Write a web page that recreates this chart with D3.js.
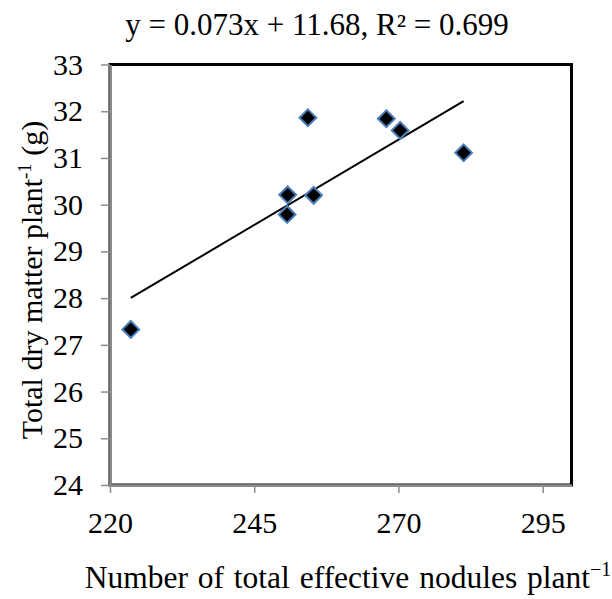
<!DOCTYPE html>
<html>
<head>
<meta charset="utf-8">
<script src="https://cdn.jsdelivr.net/npm/d3@7"></script>
<style>
  body { margin: 0; background: #fff; }
  text { font-family: "Liberation Serif", "Times New Roman", serif; fill: #000; }
</style>
</head>
<body>
<div id="chart"></div>
<script>
// nodules per plant vs total dry matter per plant
const nodules = [223.6, 254.3, 267.9, 270.3, 281.3, 250.8, 255.3, 250.7];
const dryMatter = [27.33, 31.86, 31.84, 31.59, 31.11, 30.21, 30.20, 29.79];
const xTicks = [220, 245, 270, 295];
const yTicks = [24, 25, 26, 27, 28, 29, 30, 31, 32, 33];
const slope = 0.073, intercept = 11.68;
const equation = "y = 0.073x + 11.68, R² = 0.699";

const svg = d3.select("#chart")
  .append("svg")
  .attr("width", 612)
  .attr("height", 599);

const x = d3.scaleLinear().domain([220, 300]).range([110, 571.5]);
const y = d3.scaleLinear().domain([24, 33]).range([485, 64.5]);

// plot area border
svg.append("rect")
  .attr("x", x(220))
  .attr("y", y(33))
  .attr("width", x(300) - x(220))
  .attr("height", y(24) - y(33))
  .attr("fill", "none")
  .attr("stroke", "#000")
  .attr("stroke-width", 3);

const xAxis = svg.append("g")
  .attr("transform", `translate(0,${y(24)})`)
  .call(d3.axisBottom(x).tickValues(xTicks).tickSize(8).tickPadding(19).tickSizeOuter(0));

const yAxis = svg.append("g")
  .attr("transform", `translate(${x(220)},0)`)
  .call(d3.axisLeft(y).tickValues(yTicks).tickSize(9).tickPadding(18).tickSizeOuter(0));

[xAxis, yAxis].forEach(g => {
  g.select(".domain").attr("stroke", "#8c8c8c").attr("stroke-width", 2.5);
  g.selectAll(".tick line").attr("stroke", "#8c8c8c").attr("stroke-width", 1.5);
  g.selectAll(".tick text")
    .attr("font-size", 30)
    .attr("font-family", "Liberation Serif, Times New Roman, serif")
    .attr("fill", "#000");
});

// trend line
const xr = d3.extent(nodules);
svg.append("path")
  .datum(xr)
  .attr("fill", "none")
  .attr("stroke", "#000")
  .attr("stroke-width", 2)
  .attr("d", d3.line()
    .x(d => x(d))
    .y(d => y(slope * d + intercept))
  );

// points
const pts = nodules.map((v, i) => ({ x: v, y: dryMatter[i] }));
svg.selectAll(".pt")
  .data(pts)
  .enter()
  .append("path")
  .attr("class", "pt")
  .attr("transform", d => `translate(${x(d.x)},${y(d.y)})`)
  .attr("d", d3.symbol().type(d3.symbolDiamond2).size(180))
  .attr("fill", "#000")
  .attr("stroke", "#4a7ebb")
  .attr("stroke-width", 2);

// equation
svg.append("text")
  .attr("x", 317)
  .attr("y", 35)
  .attr("text-anchor", "middle")
  .attr("font-size", 31)
  .text(equation);

// x title
const xt = svg.append("text")
  .attr("x", 348)
  .attr("y", 588)
  .attr("text-anchor", "middle")
  .attr("font-size", 31.5)
  .attr("word-spacing", 2);
xt.append("tspan").text("Number of total effective nodules plant");
xt.append("tspan").attr("font-size", 20).attr("dy", -12).text("−1");

// y title
const yt = svg.append("text")
  .attr("transform", "translate(42,280) rotate(-90)")
  .attr("text-anchor", "middle")
  .attr("font-size", 30);
yt.append("tspan").text("Total dry matter plant");
yt.append("tspan").attr("font-size", 19).attr("dy", -11).text("-1");
yt.append("tspan").attr("dy", 11).text("  (g)");
</script>
</body>
</html>
